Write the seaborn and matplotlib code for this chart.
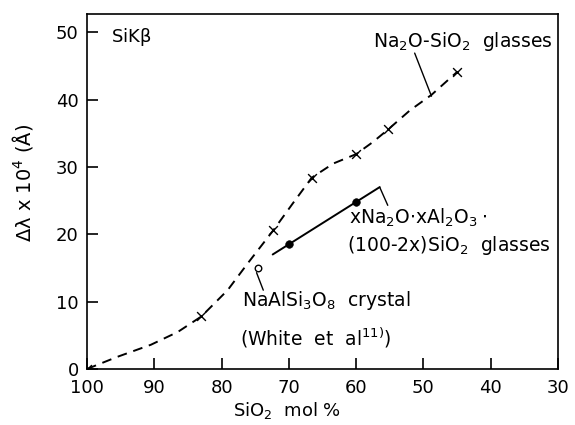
import matplotlib
matplotlib.use("Agg")
import matplotlib.pyplot as plt
import seaborn as sns
import pandas as pd

# Dashed Na2O-SiO2 curve
curve_x = [100, 95.5, 90.5, 86.5, 83.0, 79.1, 76.1, 72.3, 69.4, 66.6, 63.4, 60.0, 57.5, 55.2, 52.0, 48.8, 45.0]
curve_y = [0.0, 1.8, 3.6, 5.5, 7.8, 11.7, 15.7, 20.6, 24.6, 28.4, 30.5, 31.9, 33.7, 35.6, 38.4, 40.7, 44.1]

# Na2O-SiO2 glasses measured points (crosses)
glass_x = [100, 83.0, 72.3, 66.6, 60.0, 55.2, 45.0]
glass_y = [0.0, 7.8, 20.7, 28.4, 31.9, 35.6, 44.1]

# xNa2O.xAl2O3.(100-2x)SiO2 glasses (filled circles) and fitted line
alu_x = [70.0, 60.0]
alu_y = [18.5, 24.8]
alu_line_x = [72.4, 56.5]
alu_line_y = [17.0, 27.0]

# NaAlSi3O8 crystal (open circle)
cryst_x = [74.6]
cryst_y = [15.0]

x_ticks = [100, 90, 80, 70, 60, 50, 40, 30]
y_ticks = [0, 10, 20, 30, 40, 50]

sns.set_style("ticks")
plt.rcParams['font.family'] = ['DejaVu Sans']
plt.rcParams['mathtext.default'] = 'regular'
for k in ['text.color', 'axes.labelcolor', 'xtick.color', 'ytick.color', 'axes.edgecolor']:
    plt.rcParams[k] = 'black'

fig = plt.figure(figsize=(5.75, 4.25), dpi=100)
ax = fig.add_axes([0.1513, 0.1318, 0.8191, 0.8352])

curve = pd.DataFrame({"x": curve_x, "y": curve_y})
sns.lineplot(data=curve, x="x", y="y", ax=ax, sort=False, color="black",
             linewidth=1.4, linestyle=(0, (5, 3.5)))
sns.lineplot(x=alu_line_x, y=alu_line_y, ax=ax, sort=False, color="black", linewidth=1.4)
sns.scatterplot(x=glass_x, y=glass_y, ax=ax, marker="x", s=40, color="black", linewidth=1.0, zorder=5)
sns.scatterplot(x=alu_x, y=alu_y, ax=ax, marker="o", s=30, color="black", edgecolor="black", zorder=5)
sns.scatterplot(x=cryst_x, y=cryst_y, ax=ax, marker="o", s=22, facecolor="white", edgecolor="black",
                linewidth=1.0, zorder=5)

ax.set_xlim(100, 30)
ax.set_ylim(0, 52.7)
ax.set_xticks(x_ticks)
ax.set_xticklabels([str(t) for t in x_ticks])
ax.set_yticks(y_ticks)
ax.set_yticklabels([str(t) for t in y_ticks])
ax.tick_params(direction="in", length=8, width=1.2, labelsize=13, pad=6)
ax.tick_params(axis="x", pad=7)
for s in ax.spines.values():
    s.set_linewidth(1.2)
    s.set_color("black")

ax.set_xlabel(r"SiO$_2$  mol %", fontsize=13)
ax.xaxis.set_label_coords(0.425, -0.088)
ax.set_ylabel(r"$\Delta\lambda$ x 10$^4$ ($\AA$)", fontsize=14)
ax.yaxis.set_label_coords(-0.11, 0.524)

# annotations
ax.text(96.4, 49.3, r"Si$K\beta$", fontsize=13, va="center", ha="left")
ax.text(30.8, 48.6, r"Na$_2$O-SiO$_2$  glasses", fontsize=13.5, va="center", ha="right")
ax.plot([51.3, 48.8], [46.9, 40.5], color="black", linewidth=1.0)

ax.text(61.0, 22.5, r"xNa$_2$O$\cdot$xAl$_2$O$_3\cdot$", fontsize=13.5, va="center", ha="left")
ax.text(61.3, 18.3, r"(100-2x)SiO$_2$  glasses", fontsize=13.5, va="center", ha="left")
ax.plot([56.5, 55.3], [27.0, 24.3], color="black", linewidth=1.0)

ax.text(77.0, 10.2, r"NaAlSi$_3$O$_8$  crystal", fontsize=13.5, va="center", ha="left")
ax.text(77.3, 4.6, r"(White  et  al$^{11)}$)", fontsize=13.5, va="center", ha="left")
ax.plot([74.8, 73.8], [14.3, 11.7], color="black", linewidth=1.0)

fig.savefig("out.png", dpi=100)
